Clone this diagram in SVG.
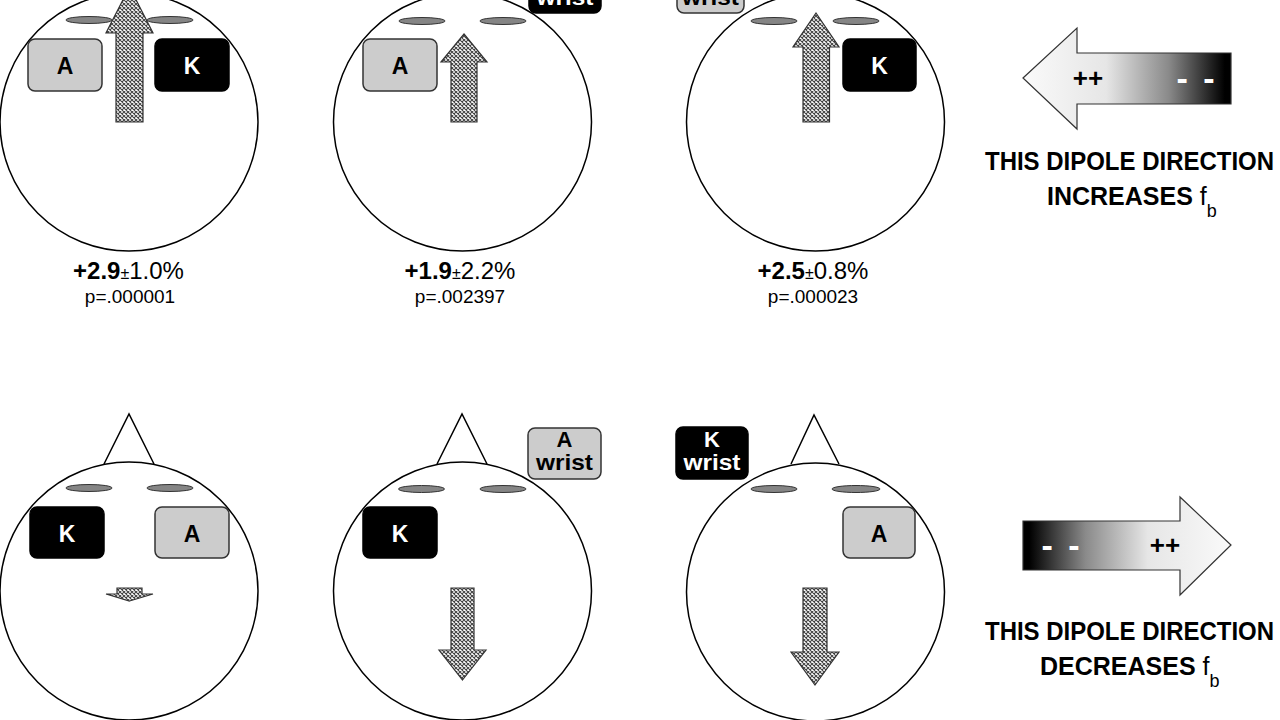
<svg xmlns="http://www.w3.org/2000/svg" width="1280" height="720" viewBox="0 0 1280 720">
<defs>
<pattern id="hatch" patternUnits="userSpaceOnUse" width="4" height="4">
<rect width="4" height="4" fill="#ffffff"/>
<path d="M0,0 L4,4 M4,0 L0,4" stroke="#444" stroke-width="1.1"/>
</pattern>
<linearGradient id="gLeft" gradientUnits="userSpaceOnUse" x1="1023" y1="0" x2="1231" y2="0">
<stop offset="0" stop-color="#fafafa"/>
<stop offset="0.4" stop-color="#e6e6e6"/>
<stop offset="0.7" stop-color="#8a8a8a"/>
<stop offset="0.97" stop-color="#000"/>
</linearGradient>
<linearGradient id="gRight" gradientUnits="userSpaceOnUse" x1="1023" y1="0" x2="1231" y2="0">
<stop offset="0.03" stop-color="#000"/>
<stop offset="0.3" stop-color="#8a8a8a"/>
<stop offset="0.6" stop-color="#e6e6e6"/>
<stop offset="1" stop-color="#fafafa"/>
</linearGradient>
<style>
.head{fill:#fff;stroke:#000;stroke-width:1.5}
.nose{fill:#fff;stroke:#000;stroke-width:1.5}
.brow{fill:#858585;stroke:#333;stroke-width:1}
.dip{fill:url(#hatch);stroke:#333;stroke-width:1.2}
.boxA{fill:#cccccc;stroke:#333;stroke-width:1.5}
.boxK{fill:#000;stroke:#000;stroke-width:1.5}
.lbl{font-family:"Liberation Sans",Arial,sans-serif;font-weight:bold;font-size:23px;text-anchor:middle}
.wl{font-size:22px}
.wA{fill:#000}
.wK{fill:#fff}
.val{font-family:"Liberation Sans",Arial,sans-serif;font-size:24px;text-anchor:middle;fill:#000}
.pv{font-family:"Liberation Sans",Arial,sans-serif;font-size:19px;text-anchor:middle;fill:#000}
.cap{font-family:"Liberation Sans",Arial,sans-serif;font-weight:bold;font-size:25px;fill:#000}
.sign{font-family:"Liberation Sans",Arial,sans-serif;font-weight:bold;font-size:26px;text-anchor:middle}
.dash{font-family:"Liberation Sans",Arial,sans-serif;font-weight:bold;font-size:34px;text-anchor:middle;fill:#fff}
.grad{stroke:#333;stroke-width:1.2}
</style>
</defs>
<rect width="1280" height="720" fill="#fff"/>

<!-- top row -->
<g id="head-top-1">
<circle class="head" cx="129" cy="122" r="129"/>
<ellipse class="brow" cx="89" cy="20" rx="23" ry="3.5"/>
<ellipse class="brow" cx="170" cy="20" rx="23" ry="3.5"/>
<rect class="boxA" x="28" y="39" width="74" height="52" rx="7"/>
<text class="lbl wA" x="65" y="74">A</text>
<rect class="boxK" x="155" y="39" width="74" height="52" rx="7"/>
<text class="lbl wK" x="192" y="74">K</text>
<path class="dip" d="M129.5,-13 L153,33 L143,33 L143,122 L116,122 L116,33 L106,33 Z"/>
<text class="val" x="128.5" y="279"><tspan font-weight="bold">+2.9</tspan><tspan font-size="16">±</tspan>1.0%</text>
<text class="pv" x="130" y="303">p=.000001</text>
</g>

<g id="head-top-2">
<circle class="head" cx="462.5" cy="122" r="129"/>
<ellipse class="brow" cx="422" cy="21" rx="23" ry="3.5"/>
<ellipse class="brow" cx="503" cy="21" rx="23" ry="3.5"/>
<rect class="boxA" x="363" y="39" width="74" height="52" rx="7"/>
<text class="lbl wA" x="400" y="74">A</text>
<path class="dip" d="M464,34 L487,62 L477,62 L477,122 L451,122 L451,62 L441,62 Z"/>
<rect class="boxK" x="529" y="-38" width="72" height="51" rx="7"/>
<text class="lbl wl wK" x="565" y="5" textLength="57" lengthAdjust="spacingAndGlyphs">wrist</text>
<text class="val" x="460" y="279"><tspan font-weight="bold">+1.9</tspan><tspan font-size="16">±</tspan>2.2%</text>
<text class="pv" x="460" y="303">p=.002397</text>
</g>

<g id="head-top-3">
<circle class="head" cx="815.5" cy="122" r="129"/>
<ellipse class="brow" cx="774" cy="21" rx="23" ry="3.5"/>
<ellipse class="brow" cx="856" cy="21" rx="23" ry="3.5"/>
<rect class="boxA" x="677" y="-38" width="67" height="51" rx="7"/>
<text class="lbl wl wA" x="710.5" y="5" textLength="57" lengthAdjust="spacingAndGlyphs">wrist</text>
<rect class="boxK" x="843" y="39" width="73" height="52" rx="7"/>
<text class="lbl wK" x="879.5" y="74">K</text>
<path class="dip" d="M816,13 L839,47 L829.5,47 L829.5,122 L803,122 L803,47 L793,47 Z"/>
<text class="val" x="813" y="279"><tspan font-weight="bold">+2.5</tspan><tspan font-size="16">±</tspan>0.8%</text>
<text class="pv" x="813" y="303">p=.000023</text>
</g>

<g id="legend-increase">
<path class="grad" fill="url(#gLeft)" d="M1023,78 L1077,28 L1077,53 L1231,53 L1231,104 L1077,104 L1077,129 Z"/>
<text class="sign" x="1088" y="87" fill="#000">++</text>
<text class="dash" x="1197" y="90" letter-spacing="3">- -</text>
<text class="cap" x="985" y="170" textLength="289" lengthAdjust="spacingAndGlyphs">THIS DIPOLE DIRECTION</text>
<text class="cap" x="1047" y="205">INCREASES <tspan font-weight="normal">f</tspan><tspan font-weight="normal" font-size="18" dy="12">b</tspan></text>
</g>

<!-- bottom row -->
<g id="head-bottom-1">
<polyline class="nose" points="104,464 129,414 154,464"/>
<circle class="head" cx="129" cy="591" r="129"/>
<ellipse class="brow" cx="89" cy="488" rx="23" ry="3.5"/>
<ellipse class="brow" cx="170" cy="488" rx="23" ry="3.5"/>
<rect class="boxK" x="30" y="507" width="74" height="51" rx="7"/>
<text class="lbl wK" x="67" y="542">K</text>
<rect class="boxA" x="155" y="507" width="74" height="51" rx="7"/>
<text class="lbl wA" x="192" y="542">A</text>
<path class="dip" d="M129.5,601 L153,594 L142,594 L142,588 L117,588 L117,594 L106,594 Z"/>
</g>

<g id="head-bottom-2">
<polyline class="nose" points="437,464 462,414 487,464"/>
<circle class="head" cx="462.5" cy="591" r="129"/>
<ellipse class="brow" cx="421.5" cy="489" rx="23" ry="3.5"/>
<ellipse class="brow" cx="503" cy="489" rx="23" ry="3.5"/>
<rect class="boxK" x="363" y="507" width="74" height="51" rx="7"/>
<text class="lbl wK" x="400" y="542">K</text>
<rect class="boxA" x="528" y="428" width="73" height="51" rx="7"/>
<text class="lbl wl wA" x="564.5" y="447">A</text>
<text class="lbl wl wA" x="564.5" y="470" textLength="57" lengthAdjust="spacingAndGlyphs">wrist</text>
<path class="dip" d="M462.5,680 L486,650 L474,650 L474,588 L451,588 L451,650 L439,650 Z"/>
</g>

<g id="head-bottom-3">
<polyline class="nose" points="791,464 814,415 839,464"/>
<circle class="head" cx="815.5" cy="592" r="129"/>
<ellipse class="brow" cx="774" cy="489" rx="23" ry="3.5"/>
<ellipse class="brow" cx="856" cy="489" rx="24" ry="3.5"/>
<rect class="boxK" x="676" y="427" width="72" height="52" rx="7"/>
<text class="lbl wl wK" x="712" y="447">K</text>
<text class="lbl wl wK" x="712" y="470" textLength="57" lengthAdjust="spacingAndGlyphs">wrist</text>
<rect class="boxA" x="843" y="507" width="72" height="51" rx="7"/>
<text class="lbl wA" x="879" y="542">A</text>
<path class="dip" d="M815,685 L839,652 L827,652 L827,588 L803,588 L803,652 L791,652 Z"/>
</g>

<g id="legend-decrease">
<path class="grad" fill="url(#gRight)" d="M1023,521 L1180,521 L1180,497 L1231,545 L1180,595 L1180,570 L1023,570 Z"/>
<text class="dash" x="1062" y="557" letter-spacing="3">- -</text>
<text class="sign" x="1165" y="554" fill="#000">++</text>
<text class="cap" x="985" y="640" textLength="289" lengthAdjust="spacingAndGlyphs">THIS DIPOLE DIRECTION</text>
<text class="cap" x="1040" y="675">DECREASES <tspan font-weight="normal">f</tspan><tspan font-weight="normal" font-size="18" dy="12">b</tspan></text>
</g>

<g id="connectors"></g>
</svg>
